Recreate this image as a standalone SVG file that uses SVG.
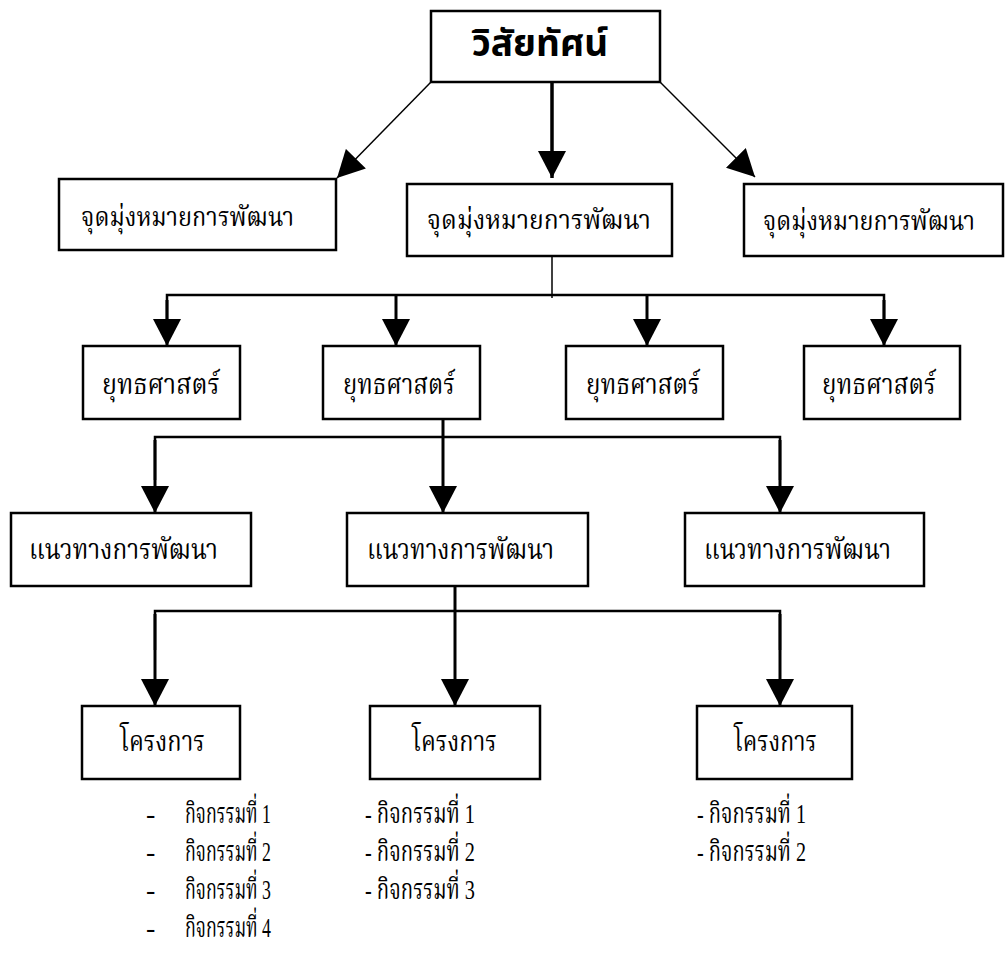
<svg xmlns="http://www.w3.org/2000/svg" width="1005" height="978" viewBox="0 0 1005 978">
<style>
.box{fill:#fff;stroke:#000;stroke-width:2.5}
.t{font-family:"Liberation Serif","Noto Serif Thai","Noto Sans Thai",serif;font-size:28px;fill:#000}
.g{font-size:26px}
.title{font-family:"Noto Sans","Noto Sans Thai","Liberation Sans",sans-serif;font-size:37px;font-weight:bold;fill:#000}
.thin{stroke:#000;stroke-width:1.5;fill:none}
.thick{stroke:#000;stroke-width:3;fill:none}
</style>
<defs>
<marker id="ah" markerUnits="userSpaceOnUse" markerWidth="28" markerHeight="28" viewBox="0 0 27 28" refX="27" refY="14" orient="auto">
<path d="M0,0 L27,14 L0,28 Z" fill="#000"/>
</marker>
</defs>
<g id="connectors">
<line class="thin" x1="431" y1="82" x2="337" y2="178" marker-end="url(#ah)"/>
<line class="thick" x1="552" y1="82" x2="552" y2="178" marker-end="url(#ah)" style="stroke-width:3.5"/>
<line class="thin" x1="660" y1="82" x2="755" y2="177" marker-end="url(#ah)"/>
<line class="thin" x1="552" y1="251" x2="552" y2="298"/>
<polyline class="thick" points="167,342 167,295 884,295 884,342" style="stroke-width:2.5"/>
<line class="thick" x1="167" y1="300" x2="167" y2="346" marker-end="url(#ah)"/>
<line class="thick" x1="396" y1="295" x2="396" y2="346" marker-end="url(#ah)"/>
<line class="thick" x1="647" y1="295" x2="647" y2="346" marker-end="url(#ah)"/>
<line class="thick" x1="884" y1="300" x2="884" y2="346" marker-end="url(#ah)"/>
<line class="thick" x1="443" y1="419" x2="443" y2="513" marker-end="url(#ah)"/>
<polyline class="thick" points="155,480 155,437 780,437 780,480" style="stroke-width:2.5"/>
<line class="thick" x1="155" y1="440" x2="155" y2="513" marker-end="url(#ah)"/>
<line class="thick" x1="780" y1="440" x2="780" y2="513" marker-end="url(#ah)"/>
<line class="thick" x1="455" y1="586" x2="455" y2="706" marker-end="url(#ah)"/>
<polyline class="thick" points="155,650 155,611 780,611 780,650" style="stroke-width:2.5"/>
<line class="thick" x1="155" y1="614" x2="155" y2="706" marker-end="url(#ah)"/>
<line class="thick" x1="780" y1="614" x2="780" y2="706" marker-end="url(#ah)"/>
</g>
<g id="vision">
<rect class="box" x="431" y="11" width="229" height="71"/>
<text class="title" x="540" y="56" text-anchor="middle">วิสัยทัศน์</text>
</g>
<g id="goal1"><rect class="box" x="59" y="179" width="277" height="71"/><text class="t g" x="81" y="226" textLength="213" lengthAdjust="spacingAndGlyphs">จุดมุ่งหมายการพัฒนา</text></g>
<g id="goal2"><rect class="box" x="407" y="184" width="265" height="72"/><text class="t g" x="427" y="229" textLength="224" lengthAdjust="spacingAndGlyphs">จุดมุ่งหมายการพัฒนา</text></g>
<g id="goal3"><rect class="box" x="744" y="184" width="259" height="72"/><text class="t g" x="763" y="230" textLength="212" lengthAdjust="spacingAndGlyphs">จุดมุ่งหมายการพัฒนา</text></g>
<g id="strategy1"><rect class="box" x="83" y="346" width="157" height="73"/><text class="t" x="102" y="394" textLength="118" lengthAdjust="spacingAndGlyphs">ยุทธศาสตร์</text></g>
<g id="strategy2"><rect class="box" x="323" y="346" width="157" height="73"/><text class="t" x="343" y="394" textLength="112" lengthAdjust="spacingAndGlyphs">ยุทธศาสตร์</text></g>
<g id="strategy3"><rect class="box" x="566" y="346" width="157" height="73"/><text class="t" x="586" y="394" textLength="114" lengthAdjust="spacingAndGlyphs">ยุทธศาสตร์</text></g>
<g id="strategy4"><rect class="box" x="804" y="346" width="156" height="73"/><text class="t" x="822" y="394" textLength="114" lengthAdjust="spacingAndGlyphs">ยุทธศาสตร์</text></g>
<g id="approach1"><rect class="box" x="11" y="513" width="240" height="73"/><text class="t" x="29" y="559" textLength="189" lengthAdjust="spacingAndGlyphs">แนวทางการพัฒนา</text></g>
<g id="approach2"><rect class="box" x="347" y="513" width="241" height="73"/><text class="t" x="367" y="559" textLength="187" lengthAdjust="spacingAndGlyphs">แนวทางการพัฒนา</text></g>
<g id="approach3"><rect class="box" x="685" y="513" width="239" height="73"/><text class="t" x="704" y="559" textLength="187" lengthAdjust="spacingAndGlyphs">แนวทางการพัฒนา</text></g>
<g id="project1"><rect class="box" x="82" y="706" width="158" height="73"/><text class="t" x="120" y="751" textLength="85" lengthAdjust="spacingAndGlyphs">โครงการ</text></g>
<g id="project2"><rect class="box" x="370" y="706" width="170" height="73"/><text class="t" x="412" y="751" textLength="85" lengthAdjust="spacingAndGlyphs">โครงการ</text></g>
<g id="project3"><rect class="box" x="697" y="706" width="155" height="73"/><text class="t" x="734" y="751" textLength="83" lengthAdjust="spacingAndGlyphs">โครงการ</text></g>
<g id="activities1" class="t">
<text x="146" y="823">-</text><text x="185" y="823" textLength="86" lengthAdjust="spacingAndGlyphs">กิจกรรมที่ 1</text>
<text x="146" y="861">-</text><text x="185" y="861" textLength="86" lengthAdjust="spacingAndGlyphs">กิจกรรมที่ 2</text>
<text x="146" y="899">-</text><text x="185" y="899" textLength="86" lengthAdjust="spacingAndGlyphs">กิจกรรมที่ 3</text>
<text x="146" y="937">-</text><text x="185" y="937" textLength="86" lengthAdjust="spacingAndGlyphs">กิจกรรมที่ 4</text>
</g>
<g id="activities2" class="t">
<text x="365" y="823" textLength="110" lengthAdjust="spacingAndGlyphs">- กิจกรรมที่ 1</text>
<text x="365" y="861" textLength="110" lengthAdjust="spacingAndGlyphs">- กิจกรรมที่ 2</text>
<text x="365" y="899" textLength="110" lengthAdjust="spacingAndGlyphs">- กิจกรรมที่ 3</text>
</g>
<g id="activities3" class="t">
<text x="697" y="823" textLength="109" lengthAdjust="spacingAndGlyphs">- กิจกรรมที่ 1</text>
<text x="697" y="861" textLength="109" lengthAdjust="spacingAndGlyphs">- กิจกรรมที่ 2</text>
</g>
</svg>
